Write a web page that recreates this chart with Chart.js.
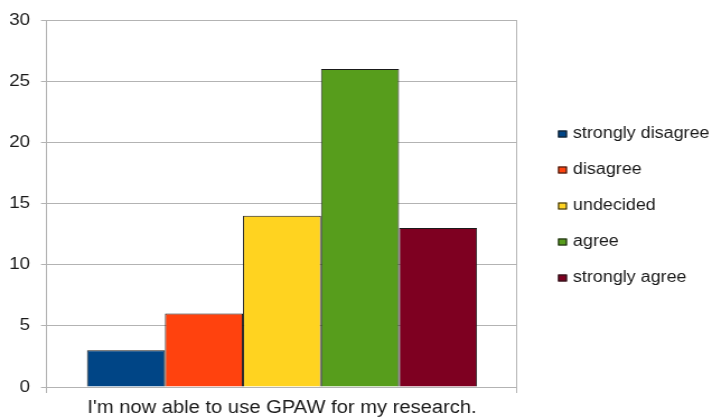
<!DOCTYPE html>
<html>
<head>
<meta charset="utf-8">
<script src="https://cdn.jsdelivr.net/npm/chart.js@4/dist/chart.umd.min.js"></script>
<style>
  html, body { margin: 0; padding: 0; background: #fff; overflow: hidden; }
  #wrap { width: 712px; height: 419px; position: relative; }
  #c { position: absolute; left: 0; top: 0; transform-origin: 0 0; }
</style>
</head>
<body>
<div id="wrap"><canvas id="c"></canvas></div>
<script>
const categories = ["I'm now able to use GPAW for my research."];
const seriesNames = ["strongly disagree", "disagree", "undecided", "agree", "strongly agree"];
const seriesValues = [3, 6, 14, 26, 13];
const seriesColors = ["#004586", "#ff420e", "#ffd320", "#579d1c", "#7e0021"];
const yTicks = [0, 5, 10, 15, 20, 25, 30];

const STRETCH = 1.12;
const W = Math.round(712 / STRETCH), H = 419;
const canvas = document.getElementById('c');
canvas.width = W; canvas.height = H;
canvas.style.width = W + 'px'; canvas.style.height = H + 'px';
canvas.style.transform = 'scaleX(' + (712 / W) + ')';
const sx = v => v * W / 712;

const FONT = "'Liberation Sans', Arial, sans-serif";
const TXT = '#1a1a1a';
const GRID = '#b3b3b3';

const legendPlugin = {
  id: 'sideLegend',
  afterDraw(chart) {
    const ctx = chart.ctx;
    ctx.save();
    ctx.font = '16px ' + FONT;
    ctx.textBaseline = 'middle';
    ctx.textAlign = 'left';
    chart.data.datasets.forEach((ds, i) => {
      const y = 134 + 36 * i;
      const x = sx(558);
      ctx.fillStyle = ds.backgroundColor;
      ctx.fillRect(x, y - 3.5, 8, 7);
      ctx.strokeStyle = '#1a1a1a';
      ctx.lineWidth = 1;
      ctx.strokeRect(x + 0.5, y - 3.5 + 0.5, 7, 6);
      ctx.fillStyle = TXT;
      ctx.fillText(ds.label, sx(573), y);
    });
    ctx.restore();
  }
};

new Chart(canvas, {
  type: 'bar',
  data: {
    labels: categories,
    datasets: seriesNames.map((name, i) => ({
      label: name,
      data: [seriesValues[i]],
      backgroundColor: seriesColors[i],
      borderColor: '#1a1a1a',
      borderWidth: 1,
      categoryPercentage: 0.83,
      barPercentage: 1.0
    }))
  },
  options: {
    responsive: false,
    animation: false,
    devicePixelRatio: 1,
    layout: { padding: { top: 20, right: W - sx(517), bottom: 0, left: 0 } },
    plugins: { legend: { display: false }, tooltip: { enabled: false } },
    scales: {
      x: {
        grid: { display: true, offset: true, color: GRID, tickLength: 6, drawOnChartArea: true },
        border: { color: GRID },
        ticks: { color: TXT, font: { family: FONT, size: 18 }, padding: 4, maxRotation: 0 },
        afterFit(scale) { scale.height = 32; }
      },
      y: {
        min: 0, max: 30,
        afterBuildTicks(scale) { scale.ticks = yTicks.map(v => ({ value: v })); },
        grid: { color: GRID, tickLength: sx(6) },
        border: { color: GRID },
        ticks: { color: TXT, font: { family: FONT, size: 16.8 }, padding: sx(11) },
        afterFit(scale) { scale.width = sx(47); }
      }
    }
  },
  plugins: [legendPlugin]
});
</script>
</body>
</html>
